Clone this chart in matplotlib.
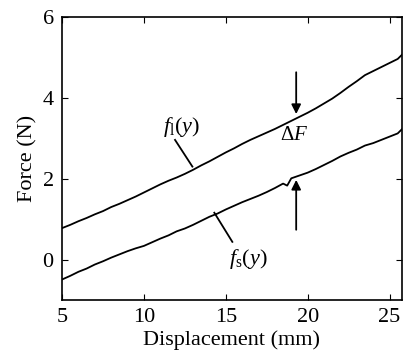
import matplotlib
matplotlib.use('Agg')
import matplotlib.pyplot as plt

# displacement samples (mm)
disp_l = [5, 5.5, 6, 6.5, 7, 7.5, 8, 8.5, 9, 9.5, 10, 10.5, 11, 11.5, 12, 12.5, 13, 13.5,
          14, 14.5, 15, 15.5, 16, 16.5, 17, 17.5, 18, 18.5, 19, 19.5, 20, 20.5, 21, 21.5,
          22, 22.5, 23, 23.5, 24, 24.5, 25, 25.5, 25.75]
force_l = [0.78, 0.86, 0.95, 1.03, 1.12, 1.20, 1.30, 1.38, 1.47, 1.56, 1.66, 1.76, 1.86, 1.95,
           2.03, 2.12, 2.22, 2.33, 2.43, 2.54, 2.65, 2.75, 2.86, 2.96, 3.05, 3.14, 3.23, 3.33,
           3.43, 3.53, 3.63, 3.74, 3.86, 3.98, 4.12, 4.27, 4.41, 4.56, 4.66, 4.76, 4.86, 4.96, 5.06]

disp_s = [5, 5.5, 6, 6.5, 7, 7.5, 8, 8.5, 9, 9.5, 10, 10.5, 11, 11.5, 12, 12.5, 13, 13.5,
          14, 14.5, 15, 15.5, 16, 16.5, 17, 17.5, 18, 18.5, 18.75, 19, 19.5, 20, 20.5, 21,
          21.5, 22, 22.5, 23, 23.5, 24, 24.5, 25, 25.5, 25.75]
force_s = [-0.49, -0.40, -0.30, -0.22, -0.12, -0.04, 0.05, 0.13, 0.21, 0.28, 0.34, 0.43, 0.52,
           0.60, 0.70, 0.77, 0.86, 0.96, 1.06, 1.14, 1.24, 1.33, 1.42, 1.50, 1.58, 1.67, 1.77,
           1.88, 1.83, 2.01, 2.08, 2.15, 2.24, 2.34, 2.44, 2.55, 2.64, 2.72, 2.82, 2.88, 2.96,
           3.04, 3.12, 3.22]

xticks = [5, 10, 15, 20, 25]
yticks = [0, 2, 4, 6]

plt.rcParams['font.family'] = ['Liberation Serif', 'DejaVu Serif']
plt.rcParams['mathtext.fontset'] = 'custom'
plt.rcParams['mathtext.it'] = 'Liberation Serif:italic'
plt.rcParams['mathtext.rm'] = 'Liberation Serif'

fig = plt.figure(figsize=(4.03, 3.59), dpi=100)
ax = fig.add_axes([0.154, 0.164, 0.843, 0.789])

ax.plot(disp_l, force_l, 'k-', lw=1.3)
ax.plot(disp_s, force_s, 'k-', lw=1.3)

ax.set_xlim(5, 25.75)
ax.set_ylim(-1, 6)
ax.set_xticks(xticks)
ax.set_yticks(yticks)
ax.tick_params(direction='in', top=True, right=True, labelsize=16, length=4, pad=6)
for s in ax.spines.values():
    s.set_linewidth(1.2)

ax.set_xlabel('Displacement (mm)', fontsize=16, labelpad=2)
ax.set_ylabel('Force (N)', fontsize=16, labelpad=4)

# curve labels with leader lines
ax.plot([11.9, 12.96], [2.96, 2.30], 'k-', lw=1.3)
ax.text(12.3, 3.28, r'$f_{\rm l}(y)$', fontsize=16, ha='center', va='center')
ax.plot([14.3, 15.4], [1.16, 0.44], 'k-', lw=1.3)
ax.text(16.4, 0.02, r'$f_{\rm s}(y)$', fontsize=16, ha='center', va='center')

# delta F arrows
ax.annotate('', xy=(19.3, 3.53), xytext=(19.3, 4.7),
            arrowprops=dict(arrowstyle='-|>', color='k', lw=1.3, mutation_scale=14))
ax.annotate('', xy=(19.3, 2.04), xytext=(19.3, 0.67),
            arrowprops=dict(arrowstyle='-|>', color='k', lw=1.3, mutation_scale=14))
ax.text(19.2, 3.06, r'$\Delta F$', fontsize=15, ha='center', va='center')

fig.savefig('out.png', dpi=100)
